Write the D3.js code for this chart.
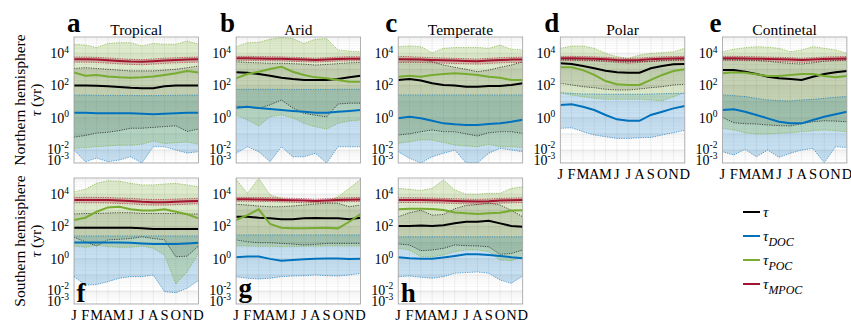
<!DOCTYPE html>
<html>
<head>
<meta charset="utf-8">
<script src="https://cdn.jsdelivr.net/npm/d3@7"></script>
<style>
  body { margin: 0; background: #fff; }
  svg { display: block; font-family: "Liberation Serif", "DejaVu Serif", serif; }
  text { font-family: "Liberation Serif", "DejaVu Serif", serif; fill: #000; }
</style>
</head>
<body>
<svg id="chart" width="851" height="323"></svg>
<script>
const months = ["J", "F", "M", "A", "M", "J", "J", "A", "S", "O", "N", "D"];
const letters = ["a", "b", "c", "d", "e", "f", "g", "h"];
const titles = ["Tropical", "Arid", "Temperate", "Polar", "Continetal", "", "", ""];
const rowLabels = ["Northern hemisphere", "Southern hemisphere"];

// log10(tau / yr), one row per panel a..h, Jan..Dec
const tauMed = [
  [2.0, 2.0, 1.98, 1.95, 1.9, 1.85, 1.82, 1.82, 1.95, 2.0, 2.0, 2.0],
  [2.81, 2.78, 2.71, 2.6, 2.48, 2.4, 2.34, 2.34, 2.34, 2.4, 2.5, 2.6],
  [2.34, 2.4, 2.3, 2.13, 2.03, 2.0, 1.92, 1.92, 1.96, 1.96, 2.03, 2.13],
  [3.37, 3.33, 3.2, 3.06, 2.91, 2.81, 2.79, 2.79, 3.06, 3.2, 3.31, 3.33],
  [2.95, 2.95, 2.85, 2.71, 2.54, 2.44, 2.4, 2.34, 2.54, 2.71, 2.81, 2.89],
  [1.92, 1.92, 1.92, 1.92, 1.92, 1.92, 1.88, 1.84, 1.84, 1.84, 1.84, 1.84],
  [2.6, 2.6, 2.54, 2.5, 2.44, 2.44, 2.5, 2.52, 2.5, 2.5, 2.44, 2.54],
  [2.03, 2.03, 2.05, 2.03, 2.08, 2.19, 2.29, 2.29, 2.35, 2.19, 2.03, 1.98]
];
const tauHi = [
  [3.05, 3.1, 3.05, 3.0, 2.95, 2.9, 2.9, 2.9, 2.95, 3.0, 3.1, 3.2],
  [3.47, 3.42, 3.4, 3.37, 3.37, 3.35, 3.32, 3.26, 3.3, 3.35, 3.4, 3.42],
  [3.68, 3.58, 3.62, 3.47, 3.26, 3.12, 3.0, 2.85, 2.95, 3.12, 3.26, 3.47],
  [3.6, 3.6, 3.58, 3.55, 3.52, 3.5, 3.48, 3.48, 3.5, 3.55, 3.58, 3.6],
  [3.62, 3.6, 3.58, 3.55, 3.5, 3.42, 3.36, 3.33, 3.4, 3.5, 3.55, 3.6],
  [2.77, 2.8, 2.8, 2.83, 2.85, 2.85, 2.8, 2.8, 2.8, 2.8, 2.77, 2.77],
  [3.37, 3.33, 3.26, 3.22, 3.22, 3.26, 3.33, 3.39, 3.43, 3.43, 3.22, 3.33],
  [2.6, 2.85, 3.0, 2.7, 2.74, 3.1, 3.3, 3.36, 3.45, 3.33, 3.0, 2.6]
];
const tauLo = [
  [-1.2, -1.1, -0.95, -0.9, -0.8, -0.65, -0.65, -0.6, -0.55, -0.5, -0.85, -0.7],
  [0.72, 0.65, 0.58, 0.8, 1.1, 0.6, 0.27, 0.15, 0.05, 0.85, 0.9, 0.9],
  [-1.07, -1.0, -0.87, -0.76, -0.87, -0.87, -1.0, -1.13, -0.93, -0.87, -0.87, -0.97],
  [2.13, 2.03, 1.92, 1.86, 1.76, 1.72, 1.72, 1.78, 1.86, 1.92, 2.03, 2.07],
  [0.02, -0.31, -0.37, -0.39, -0.45, -0.49, -0.51, -0.37, -0.25, -0.19, -0.21, -0.25],
  [1.33, 1.05, 0.79, 1.17, 1.2, 1.25, 1.36, 1.25, 1.17, 0.12, 0.16, 0.79],
  [1.16, 1.05, 0.99, 0.99, 0.95, 0.91, 0.85, 0.89, 0.95, 0.95, 0.95, 0.95],
  [0.91, 0.85, 0.5, 0.54, 0.64, 0.85, 0.81, 0.79, 0.74, 0.27, 0.33, 0.54]
];

const docMed = [
  [0.3, 0.3, 0.28, 0.28, 0.28, 0.28, 0.25, 0.22, 0.25, 0.28, 0.3, 0.3],
  [0.62, 0.68, 0.6, 0.54, 0.48, 0.42, 0.37, 0.31, 0.31, 0.37, 0.42, 0.48],
  [-0.04, 0.06, -0.04, -0.19, -0.35, -0.41, -0.45, -0.45, -0.39, -0.35, -0.25, -0.13],
  [0.79, 0.83, 0.68, 0.48, 0.17, -0.1, -0.19, -0.19, 0.17, 0.37, 0.58, 0.72],
  [0.48, 0.52, 0.37, 0.17, -0.04, -0.25, -0.35, -0.35, -0.14, 0.06, 0.21, 0.37],
  [1.01, 1.01, 1.01, 1.01, 1.01, 0.99, 0.95, 0.91, 0.91, 0.91, 0.95, 0.99],
  [0.09, 0.13, 0.13, -0.01, -0.12, -0.08, -0.04, 0.0, 0.02, 0.02, -0.01, 0.0],
  [0.09, 0.03, 0.0, 0.0, 0.08, 0.17, 0.27, 0.27, 0.23, 0.17, 0.09, 0.03]
];
const docHi = [
  [1.4, 1.4, 1.39, 1.38, 1.38, 1.38, 1.37, 1.37, 1.38, 1.39, 1.4, 1.4],
  [1.76, 1.76, 1.76, 1.76, 1.76, 1.75, 1.75, 1.75, 1.75, 1.76, 1.76, 1.76],
  [1.41, 1.41, 1.41, 1.41, 1.41, 1.41, 1.41, 1.41, 1.41, 1.41, 1.41, 1.41],
  [1.55, 1.51, 1.47, 1.47, 1.45, 1.45, 1.45, 1.45, 1.47, 1.49, 1.51, 1.51],
  [1.41, 1.37, 1.31, 1.2, 1.1, 1.06, 1.04, 1.1, 1.14, 1.2, 1.27, 1.31],
  [1.41, 1.41, 1.41, 1.41, 1.41, 1.41, 1.41, 1.41, 1.41, 1.41, 1.41, 1.41],
  [1.47, 1.47, 1.47, 1.47, 1.47, 1.47, 1.47, 1.47, 1.47, 1.47, 1.47, 1.47],
  [1.36, 1.36, 1.36, 1.36, 1.36, 1.36, 1.36, 1.36, 1.36, 1.36, 1.36, 1.36]
];
const docLo = [
  [-2.0, -2.9, -2.62, -2.9, -2.77, -2.52, -3.0, -1.8, -1.8, -2.0, -2.23, -2.13],
  [-2.25, -1.8, -2.13, -2.9, -1.8, -2.52, -2.52, -2.25, -3.0, -1.8, -1.8, -1.8],
  [-2.13, -2.64, -3.0, -2.52, -2.25, -2.0, -3.0, -3.0, -2.25, -1.9, -2.0, -2.13],
  [-0.66, -0.62, -0.87, -1.07, -1.18, -1.28, -1.28, -1.24, -1.22, -1.07, -0.93, -0.79],
  [-2.13, -2.38, -1.96, -2.52, -2.0, -2.56, -2.25, -2.0, -1.9, -2.98, -1.8, -1.85],
  [-1.11, -1.63, -1.6, -1.42, -1.21, -1.11, -1.11, -1.01, -2.05, -2.13, -1.83, -1.35],
  [-1.11, -1.21, -1.25, -1.21, -1.11, -1.07, -1.05, -1.01, -1.05, -1.07, -1.01, -0.9],
  [-1.11, -1.07, -1.15, -1.21, -1.11, -0.9, -0.86, -0.82, -0.9, -1.32, -1.52, -1.07]
];

const pocMed = [
  [2.8, 2.6, 2.65, 2.55, 2.5, 2.48, 2.5, 2.55, 2.65, 2.75, 2.9, 2.8],
  [2.44, 2.71, 2.85, 3.02, 3.16, 2.85, 2.65, 2.5, 2.44, 2.34, 2.23, 2.23],
  [2.54, 2.6, 2.54, 2.65, 2.71, 2.75, 2.71, 2.65, 2.54, 2.48, 2.34, 2.34],
  [3.12, 3.12, 2.95, 2.65, 2.27, 2.07, 2.03, 2.03, 2.34, 2.65, 2.89, 3.0],
  [2.75, 2.81, 2.79, 2.69, 2.58, 2.58, 2.65, 2.71, 2.71, 2.58, 2.5, 2.58],
  [2.4, 2.54, 2.91, 3.18, 3.22, 3.06, 2.98, 2.98, 3.06, 2.91, 2.75, 2.5],
  [2.4, 2.7, 3.06, 2.15, 1.92, 1.88, 1.88, 1.9, 1.92, 1.88, 2.29, 2.77],
  [3.06, 3.1, 3.1, 3.08, 3.02, 2.87, 2.81, 2.77, 2.81, 2.85, 2.98, 3.0]
];
const pocHi = [
  [4.55, 4.5, 4.35, 4.6, 4.65, 4.65, 4.45, 4.6, 4.55, 4.55, 4.75, 4.55],
  [4.4, 4.65, 4.67, 4.86, 4.98, 4.9, 4.6, 4.86, 4.9, 4.2, 4.13, 4.09],
  [4.4, 4.45, 4.4, 4.03, 4.3, 4.35, 4.35, 4.35, 4.3, 4.5, 4.24, 4.2],
  [4.3, 4.44, 4.44, 4.3, 3.99, 3.78, 3.68, 3.88, 3.99, 4.03, 4.09, 4.3],
  [4.09, 4.24, 4.34, 4.4, 4.37, 4.3, 4.09, 4.2, 4.4, 4.3, 4.2, 3.99],
  [4.15, 4.3, 4.67, 4.83, 4.8, 4.67, 4.57, 4.57, 4.63, 4.67, 4.57, 4.46],
  [4.92, 4.05, 4.98, 3.95, 3.74, 3.53, 3.43, 3.53, 3.53, 3.84, 4.36, 4.92],
  [4.36, 4.3, 4.22, 4.36, 4.88, 4.26, 4.0, 4.0, 4.05, 4.05, 4.36, 4.46]
];
const pocLo = [
  [-1.9, -1.85, -1.8, -1.75, -1.7, -1.7, -1.65, -1.45, -1.6, -1.55, -1.5, -1.65],
  [0.17, -0.14, -0.51, 0.06, 0.17, 0.0, -0.35, -0.56, -0.7, -0.35, -0.2, -0.14],
  [-1.59, -1.48, -1.38, -1.38, -1.54, -1.69, -1.75, -1.8, -1.65, -1.8, -1.8, -1.85],
  [1.55, 1.4, 1.3, 1.2, 1.14, 1.14, 1.14, 1.14, 1.1, 1.05, 1.3, 1.55],
  [-0.66, -0.76, -0.93, -1.01, -1.01, -0.97, -0.93, -0.87, -0.81, -0.76, -0.81, -0.87],
  [0.79, 0.71, 0.83, 0.75, 0.71, 0.71, 0.79, 0.65, 0.23, -1.57, -0.8, 0.33],
  [0.79, 0.79, 0.77, 0.77, 0.75, 0.75, 0.77, 0.77, 0.79, 0.79, 0.79, 0.79],
  [0.64, 0.54, 0.12, 0.12, 0.23, 0.44, 0.54, 0.54, 0.44, -0.08, -0.12, 0.08]
];

const mpocMed = [
  [3.62, 3.62, 3.6, 3.56, 3.52, 3.48, 3.46, 3.5, 3.55, 3.58, 3.6, 3.62],
  [3.68, 3.68, 3.67, 3.66, 3.65, 3.62, 3.6, 3.57, 3.6, 3.64, 3.66, 3.66],
  [3.62, 3.62, 3.6, 3.58, 3.56, 3.54, 3.52, 3.5, 3.54, 3.58, 3.6, 3.6],
  [3.68, 3.68, 3.67, 3.65, 3.62, 3.58, 3.56, 3.58, 3.62, 3.65, 3.67, 3.68],
  [3.68, 3.68, 3.67, 3.66, 3.64, 3.62, 3.6, 3.57, 3.6, 3.64, 3.66, 3.67],
  [3.64, 3.64, 3.64, 3.63, 3.6, 3.58, 3.53, 3.5, 3.5, 3.53, 3.56, 3.57],
  [3.68, 3.68, 3.67, 3.66, 3.64, 3.62, 3.6, 3.57, 3.6, 3.64, 3.66, 3.67],
  [3.64, 3.64, 3.63, 3.62, 3.6, 3.58, 3.56, 3.54, 3.56, 3.6, 3.62, 3.63]
];
const mpocHi = [
  [3.76, 3.76, 3.74, 3.7, 3.66, 3.62, 3.6, 3.64, 3.69, 3.72, 3.74, 3.76],
  [3.8, 3.8, 3.79, 3.78, 3.77, 3.74, 3.72, 3.69, 3.72, 3.76, 3.78, 3.78],
  [3.8, 3.78, 3.75, 3.72, 3.7, 3.68, 3.66, 3.64, 3.68, 3.72, 3.74, 3.75],
  [3.8, 3.8, 3.79, 3.77, 3.74, 3.7, 3.68, 3.7, 3.74, 3.77, 3.79, 3.8],
  [3.8, 3.8, 3.79, 3.78, 3.76, 3.74, 3.72, 3.69, 3.72, 3.76, 3.78, 3.79],
  [3.8, 3.8, 3.8, 3.79, 3.76, 3.74, 3.7, 3.67, 3.67, 3.7, 3.72, 3.74],
  [3.8, 3.8, 3.79, 3.78, 3.76, 3.74, 3.72, 3.69, 3.72, 3.76, 3.78, 3.79],
  [3.78, 3.78, 3.77, 3.76, 3.74, 3.72, 3.7, 3.68, 3.7, 3.74, 3.76, 3.77]
];
const mpocLo = [
  [3.44, 3.44, 3.42, 3.38, 3.34, 3.3, 3.28, 3.32, 3.37, 3.4, 3.42, 3.44],
  [3.55, 3.55, 3.54, 3.53, 3.52, 3.49, 3.47, 3.44, 3.47, 3.51, 3.53, 3.53],
  [3.42, 3.43, 3.42, 3.4, 3.38, 3.36, 3.34, 3.32, 3.36, 3.4, 3.42, 3.42],
  [3.55, 3.55, 3.54, 3.52, 3.48, 3.42, 3.38, 3.42, 3.48, 3.52, 3.54, 3.55],
  [3.55, 3.55, 3.54, 3.53, 3.51, 3.48, 3.45, 3.42, 3.46, 3.51, 3.53, 3.54],
  [3.46, 3.46, 3.46, 3.45, 3.42, 3.4, 3.35, 3.32, 3.32, 3.35, 3.38, 3.4],
  [3.56, 3.56, 3.55, 3.54, 3.52, 3.5, 3.48, 3.45, 3.48, 3.52, 3.54, 3.55],
  [3.48, 3.48, 3.47, 3.46, 3.44, 3.42, 3.4, 3.38, 3.4, 3.44, 3.46, 3.47]
];

const seriesSubs = ["", "DOC", "POC", "MPOC"];
const colors = ["#000000", "#0072BD", "#77AC30", "#A2142F"];
const yTickExp = [4, 2, 0, -2, -3];

const series = [
  { med: tauMed, lo: tauLo, hi: tauHi, fillOpacity: 0.13 },
  { med: docMed, lo: docLo, hi: docHi, fillOpacity: 0.22 },
  { med: pocMed, lo: pocLo, hi: pocHi, fillOpacity: 0.25 },
  { med: mpocMed, lo: mpocLo, hi: mpocHi, fillOpacity: 0.22 }
];

const svg = d3.select("#chart");
const pw = 124.5, ph = 126;

// log axis, the last decade (1e-3..1e-2) is squeezed like in the original
const y = d3.scaleLog().domain([1e-3, 1e-2, 1e5]).range([ph, ph - 13, 0]).clamp(true);
const x = d3.scaleLinear().domain([0, 11]).range([0, pw]);
const val = v => Math.pow(10, v);

// minor grid values k*10^d
const gridVals = d3.range(-3, 5).flatMap(d => d3.range(1, 10).map(k => k * Math.pow(10, d)));

letters.forEach((letter, p) => {
  const row = p < 5 ? 0 : 1;
  const col = p < 5 ? p : p - 5;
  const left = 74 + col * 162.1;
  const top = row ? 178 : 37;
  const g = svg.append("g").attr("transform", `translate(${left},${top})`);

  g.append("clipPath").attr("id", "clip" + p)
    .append("rect").attr("width", pw).attr("height", ph);
  const inner = g.append("g").attr("clip-path", `url(#clip${p})`);

  // grid
  inner.append("g").selectAll("line").data(gridVals).join("line")
    .attr("x1", 0).attr("x2", pw)
    .attr("y1", d => y(d)).attr("y2", d => y(d))
    .attr("stroke", "#000")
    .attr("stroke-opacity", d => (Math.abs(Math.log10(d) % 1) < 1e-9 ? 0.14 : 0.07))
    .attr("stroke-width", 0.6);
  inner.append("g").selectAll("line").data(d3.range(12)).join("line")
    .attr("x1", d => x(d)).attr("x2", d => x(d))
    .attr("y1", 0).attr("y2", ph)
    .attr("stroke", "#000").attr("stroke-opacity", 0.1).attr("stroke-width", 0.6);

  const idx = d3.range(12);
  // bands
  series.forEach((s, si) => {
    const area = d3.area()
      .x(i => x(i))
      .y0(i => y(val(s.lo[p][i])))
      .y1(i => y(val(s.hi[p][i])));
    inner.append("path").datum(idx)
      .attr("d", area)
      .attr("fill", colors[si])
      .attr("fill-opacity", s.fillOpacity);
  });
  // dotted bounds
  series.forEach((s, si) => {
    [s.lo, s.hi].forEach(arr => {
      const line = d3.line().x(i => x(i)).y(i => y(val(arr[p][i])));
      inner.append("path").datum(idx)
        .attr("d", line)
        .attr("fill", "none")
        .attr("stroke", colors[si])
        .attr("stroke-width", 0.8)
        .attr("stroke-opacity", 0.8)
        .attr("stroke-dasharray", "1.2 1.2");
    });
  });
  // medians
  series.forEach((s, si) => {
    const line = d3.line().x(i => x(i)).y(i => y(val(s.med[p][i])));
    inner.append("path").datum(idx)
      .attr("d", line)
      .attr("fill", "none")
      .attr("stroke", colors[si])
      .attr("stroke-width", 2);
  });

  // frame
  g.append("rect").attr("width", pw).attr("height", ph)
    .attr("fill", "none").attr("stroke", "#a0a0a0").attr("stroke-width", 0.8);

  // y tick labels
  yTickExp.forEach(e => {
    const t = g.append("text")
      .attr("x", -5)
      .attr("y", e === -2 ? y(val(e)) + 3.5 : Math.min(y(val(e)) + 5, ph + 1.5))
      .attr("text-anchor", "end")
      .attr("font-size", 14);
    t.append("tspan").text("10");
    t.append("tspan").attr("dy", -5.5).attr("font-size", 9.5).text(String(e));
  });

  // month labels
  if (p >= 3) {
    g.append("g").selectAll("text").data(months).join("text")
      .attr("x", (d, i) => x(i))
      .attr("y", ph + 16)
      .attr("text-anchor", "middle")
      .attr("font-size", 14.5)
      .text(d => d);
  }

  // title and panel letter
  if (row === 0) {
    g.append("text").attr("x", pw / 2).attr("y", -2.5)
      .attr("text-anchor", "middle").attr("font-size", 15.5).text(titles[p]);
    g.append("text").attr("x", p === 0 ? 6.5 : -1).attr("y", -5)
      .attr("text-anchor", "end").attr("font-size", 27).attr("font-weight", "bold")
      .text(letter);
  } else {
    g.append("text").attr("x", 2.5).attr("y", letter === "g" ? ph - 7 : ph - 2.5)
      .attr("font-size", 27).attr("font-weight", "bold").text(letter);
  }
});

// row labels
rowLabels.forEach((label, r) => {
  const cy = r ? 241 : 100;
  svg.append("text")
    .attr("transform", `translate(25,${cy}) rotate(-90)`)
    .attr("text-anchor", "middle").attr("font-size", 15.5).text(label);
  const t = svg.append("text")
    .attr("transform", `translate(41,${cy}) rotate(-90)`)
    .attr("text-anchor", "middle").attr("font-size", 15.5);
  t.append("tspan").attr("font-style", "italic").text("τ");
  t.append("tspan").text(" (yr)");
});

// legend
const legend = svg.append("g").attr("transform", "translate(743,212)");
seriesSubs.forEach((sub, i) => {
  const ly = i * 24;
  legend.append("line").attr("x1", 0).attr("x2", 17).attr("y1", ly).attr("y2", ly)
    .attr("stroke", colors[i]).attr("stroke-width", 2);
  const t = legend.append("text").attr("x", 20).attr("y", ly + 5)
    .attr("font-size", 15).attr("font-style", "italic");
  t.append("tspan").text("τ");
  if (sub) t.append("tspan").attr("dy", 5).attr("font-size", 12).text(sub);
});
</script>
</body>
</html>
